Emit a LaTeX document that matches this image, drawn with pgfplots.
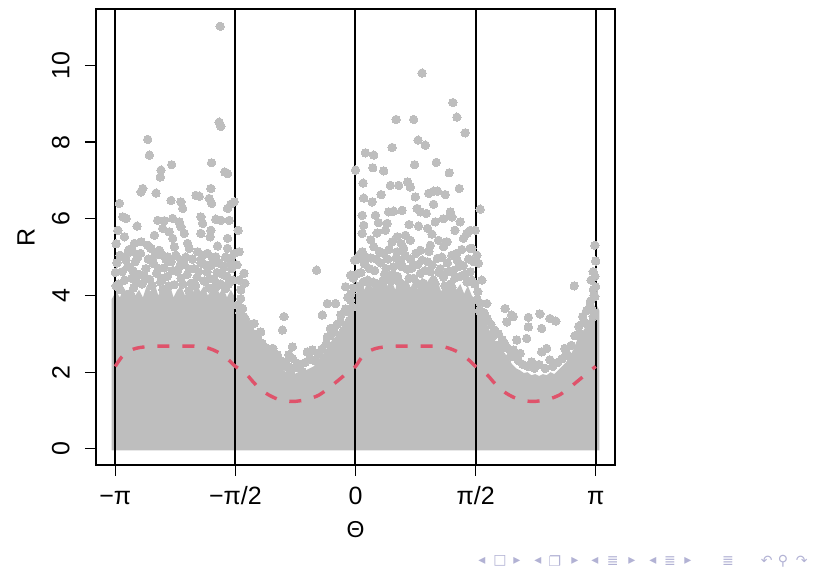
\documentclass[border=0pt]{standalone}
\usepackage{fontspec}
\setmainfont{Liberation Sans}
\newfontfamily\symfont{DejaVu Sans}
\usepackage{pgfplots}
\pgfplotsset{compat=1.18}
\usepackage{pgfplotstable}

\definecolor{ptgray}{RGB}{190,190,190}
\definecolor{curvered}{HTML}{DF536B}
\definecolor{navc}{RGB}{178,178,212}

% dense core of the cloud: outline of the solid region
\pgfplotstableread{
th R
-3.19 -0.04
-3.19 3.90
-3.13 4.10
-3.08 3.95
-3.03 4.20
-2.98 4.05
-2.93 4.30
-2.88 4.00
-2.83 4.15
-2.78 3.95
-2.73 4.25
-2.68 4.10
-2.63 4.35
-2.58 4.00
-2.53 4.20
-2.48 4.05
-2.43 4.30
-2.38 3.95
-2.33 4.15
-2.28 4.25
-2.23 4.00
-2.18 4.20
-2.13 4.05
-2.08 4.35
-2.03 4.10
-1.98 4.25
-1.93 4.00
-1.88 4.20
-1.83 4.30
-1.78 4.05
-1.73 4.20
-1.68 3.95
-1.63 4.15
-1.59 4.00
-1.55 3.60
-1.50 3.40
-1.45 3.20
-1.40 3.00
-1.35 2.85
-1.30 2.70
-1.25 2.60
-1.20 2.50
-1.15 2.40
-1.10 2.30
-1.05 2.25
-1.00 2.15
-0.95 2.05
-0.90 2.00
-0.85 1.98
-0.80 1.95
-0.75 2.00
-0.70 1.95
-0.65 2.05
-0.60 2.10
-0.55 2.15
-0.50 2.25
-0.45 2.40
-0.40 2.55
-0.35 2.70
-0.30 2.85
-0.25 2.95
-0.20 3.10
-0.15 3.25
-0.10 3.45
-0.05 3.75
-0.02 3.95
0.02 4.10
0.07 4.35
0.12 4.15
0.17 4.45
0.22 4.20
0.27 4.40
0.32 4.10
0.37 4.50
0.42 4.25
0.47 4.40
0.52 4.15
0.57 4.55
0.62 4.30
0.67 4.45
0.72 4.20
0.77 4.40
0.82 4.15
0.87 4.50
0.92 4.30
0.97 4.45
1.02 4.20
1.07 4.40
1.12 4.10
1.17 4.35
1.22 4.20
1.27 4.45
1.32 4.15
1.37 4.30
1.42 4.05
1.47 4.25
1.52 4.00
1.56 3.90
1.60 3.60
1.65 3.40
1.70 3.25
1.75 3.10
1.80 2.90
1.85 2.75
1.90 2.60
1.95 2.50
2.00 2.35
2.05 2.20
2.10 2.10
2.15 2.05
2.20 1.98
2.25 2.00
2.30 1.92
2.35 1.95
2.40 1.90
2.45 1.95
2.50 1.92
2.55 2.00
2.60 1.95
2.65 2.05
2.70 2.15
2.75 2.25
2.80 2.40
2.85 2.60
2.90 2.85
2.95 3.00
3.00 3.15
3.05 3.35
3.10 3.60
3.14 3.80
3.19 3.60
3.19 -0.04
}\coretable

% individual observations above the dense core
\pgfplotstableread{
th R
-1.770 11.02
-1.783 8.52
-1.760 8.41
-2.716 8.07
-2.695 7.66
-2.403 7.41
-2.543 7.27
-2.552 7.09
-1.882 7.46
-1.708 7.22
-1.673 7.18
-2.781 6.79
-2.804 6.70
-2.608 6.67
-3.087 6.40
-2.412 6.48
-2.282 6.44
-2.260 6.27
-2.086 6.61
-2.043 6.59
-1.891 6.79
-1.913 6.53
-1.882 6.40
-1.673 6.27
-1.630 6.38
-1.587 6.44
-3.042 6.05
-2.999 6.01
-2.856 5.81
-2.586 5.96
-2.500 5.95
-2.390 6.01
-2.304 5.92
-2.021 6.05
-1.999 5.88
-1.826 5.99
-1.760 5.96
-1.652 5.96
-3.107 5.70
-3.021 5.53
-2.630 5.57
-2.521 5.75
-2.435 5.66
-2.282 5.79
-2.239 5.62
-2.390 5.49
-1.891 5.70
-1.900 5.53
-1.673 5.49
-2.021 5.62
-2.891 5.36
-2.804 5.40
-2.716 5.31
-2.977 5.10
-2.912 5.14
-2.673 5.23
-2.565 5.18
-2.521 5.05
-2.369 5.27
-2.195 5.36
-2.174 5.23
-2.064 5.14
-1.934 5.10
-1.803 5.29
-1.673 5.23
-3.064 5.01
-2.999 4.92
-2.847 5.01
-2.455 5.01
-2.282 4.92
-2.021 4.92
-1.826 5.01
-1.630 4.97
-1.535 5.70
-3.13 5.35
-3.14 4.60
-3.13 4.25
-3.12 4.85
-3.05 4.62
-2.98 4.75
-2.93 4.45
-2.88 4.88
-2.83 4.55
-2.79 4.30
-2.74 4.70
-2.69 4.42
-2.64 4.83
-2.60 4.58
-2.55 4.35
-2.50 4.72
-2.46 4.50
-2.41 4.88
-2.37 4.28
-2.33 4.62
-2.28 4.45
-2.24 4.80
-2.20 4.55
-2.15 4.32
-2.11 4.70
-2.07 4.48
-2.02 4.85
-1.98 4.38
-1.94 4.62
-1.89 4.78
-1.85 4.42
-1.81 4.60
-1.76 4.30
-1.72 4.75
-1.68 4.50
-1.64 4.88
-1.60 4.40
-3.10 4.30
-2.90 4.20
-2.52 4.15
-2.18 4.12
-1.92 4.20
-1.70 4.18
-3.08 5.05
-3.02 4.40
-2.96 5.20
-2.91 4.65
-2.86 4.35
-2.81 5.10
-2.76 4.50
-2.71 4.95
-2.66 4.25
-2.62 5.05
-2.57 4.70
-2.53 4.45
-2.48 4.95
-2.44 4.25
-2.39 4.65
-2.35 5.05
-2.30 4.75
-2.26 4.30
-2.22 5.00
-2.17 4.68
-2.13 4.95
-2.09 4.25
-2.05 4.62
-2.00 5.05
-1.96 4.80
-1.91 4.45
-1.87 4.98
-1.83 4.20
-1.79 4.85
-1.74 4.55
-1.70 5.00
-1.66 4.30
-1.62 4.70
-1.58 5.10
-3.08 4.15
-2.95 4.05
-1.522 5.14
-1.457 4.58
-1.447 4.32
-1.500 3.92
-1.477 3.66
-0.935 3.45
-0.956 3.10
-1.239 3.05
-0.825 2.66
-0.870 2.45
-0.825 2.36
-0.630 2.53
-0.565 2.58
-0.492 2.49
-0.369 3.79
-0.261 3.79
-0.434 3.49
-0.326 3.14
-0.369 2.92
-0.196 3.31
-0.108 3.58
-0.065 3.88
-0.130 4.23
-0.013 4.92
-0.065 4.53
-0.509 4.66
-0.760 2.23
-0.695 2.01
-0.848 2.01
-0.935 2.14
-1.021 2.23
-1.108 2.36
-1.196 2.45
-1.369 2.58
-1.412 2.84
-1.434 3.36
-1.326 3.27
-1.55 4.80
-1.52 4.40
-1.50 4.15
-1.48 3.30
-1.40 3.05
-1.35 2.90
-1.30 2.75
-1.25 2.65
-1.15 2.55
-1.05 2.40
-0.40 2.30
-0.30 2.55
-0.22 2.80
-0.15 3.10
-0.08 3.35
-0.04 3.70
-0.02 4.20
-0.10 3.95
-1.54 3.75
-1.51 3.55
-1.46 3.45
-1.43 3.15
-1.38 3.20
-1.33 3.00
-1.28 2.90
-1.22 2.75
-1.18 2.65
-1.12 2.50
-1.08 2.62
-1.02 2.45
-0.98 2.30
-0.92 2.25
-0.88 2.15
-0.78 2.12
-0.72 2.20
-0.66 2.25
-0.60 2.35
-0.54 2.30
-0.48 2.45
-0.44 2.60
-0.38 2.75
-0.33 2.95
-0.28 3.05
-0.24 3.25
-0.19 3.50
-0.13 3.65
-0.06 4.05
-0.03 4.45
0.870 9.80
1.274 9.03
1.326 8.65
1.434 8.24
0.531 8.59
0.760 8.59
0.818 8.05
0.913 7.92
0.479 7.86
0.130 7.72
0.239 7.66
0.000 7.27
0.226 7.33
0.369 7.25
0.773 7.41
1.056 7.47
1.226 7.20
0.100 6.93
0.456 6.87
0.565 6.87
0.682 6.96
0.717 6.83
0.782 6.57
0.956 6.66
1.021 6.72
1.073 6.72
1.174 6.63
1.356 6.79
0.108 6.54
0.218 6.44
0.335 6.63
1.021 6.38
0.087 6.09
0.261 6.09
0.434 6.18
0.499 6.20
0.609 6.22
0.805 6.27
0.848 6.18
0.926 6.14
1.239 6.18
1.261 6.05
0.108 5.83
0.413 5.88
0.825 5.81
0.943 5.75
1.043 5.92
1.369 5.92
1.500 5.70
1.457 5.62
0.087 5.62
0.283 5.63
0.391 5.70
0.479 5.40
0.544 5.53
0.652 5.57
0.717 5.44
1.086 5.44
1.196 5.40
1.412 5.49
1.565 5.70
0.087 5.14
0.239 5.27
0.369 5.10
0.544 5.14
0.630 5.23
0.848 5.18
0.978 5.31
1.151 5.27
1.326 5.10
1.500 5.23
1.630 6.25
1.522 5.23
1.587 5.05
1.608 4.84
1.652 4.40
1.717 3.79
1.695 3.45
0.03 4.95
0.07 4.60
0.12 4.82
0.16 4.40
0.20 4.98
0.25 4.65
0.29 4.30
0.33 4.85
0.38 4.55
0.42 4.95
0.46 4.38
0.50 4.75
0.55 4.50
0.59 4.90
0.63 4.28
0.68 4.68
0.72 4.95
0.76 4.45
0.81 4.80
0.85 4.58
0.89 4.32
0.94 4.88
0.98 4.62
1.02 4.40
1.07 4.97
1.11 4.70
1.15 4.48
1.20 4.85
1.24 4.30
1.28 4.65
1.33 4.92
1.37 4.50
1.41 4.78
1.46 4.35
1.50 4.62
1.54 4.88
0.05 4.25
0.35 4.20
0.66 4.22
0.96 4.18
1.26 4.22
1.56 4.30
0.01 4.55
0.05 5.05
0.10 4.35
0.14 5.00
0.18 4.70
0.23 4.35
0.27 4.95
0.31 5.15
0.36 4.40
0.40 4.70
0.44 5.20
0.48 4.55
0.53 4.98
0.57 4.35
0.61 4.75
0.65 5.05
0.70 4.45
0.74 4.72
0.79 5.10
0.83 4.30
0.87 4.92
0.91 4.65
0.96 5.15
1.00 4.80
1.04 4.30
1.09 4.60
1.13 5.00
1.17 4.25
1.22 4.62
1.26 5.05
1.30 4.45
1.35 4.75
1.39 5.20
1.43 4.55
1.48 4.95
1.52 4.40
0.20 5.45
0.60 5.35
1.00 5.60
1.30 5.70
0.70 5.85
0.30 5.90
1.15 6.00
1.956 3.66
2.043 3.49
1.978 3.31
2.064 3.45
2.260 3.43
2.260 3.18
2.412 3.52
2.435 3.14
2.543 3.40
2.621 3.33
2.109 2.84
2.239 2.88
2.064 2.58
2.152 2.49
2.021 2.40
2.435 2.53
2.500 2.62
2.304 2.27
2.543 2.32
2.738 2.62
2.804 2.40
2.934 3.01
3.021 3.27
3.108 3.45
3.064 3.71
3.130 3.97
3.140 4.23
3.108 4.62
3.130 5.31
2.860 4.25
1.60 4.10
1.62 3.60
1.66 3.30
1.70 3.05
1.75 2.85
1.80 2.95
1.85 2.70
1.90 2.60
1.95 2.75
2.95 2.70
3.00 2.90
3.05 3.10
3.10 3.60
3.12 4.00
3.08 4.40
3.14 4.90
2.90 2.50
2.98 3.30
1.59 3.90
1.63 3.80
1.68 3.55
1.72 3.40
1.77 3.25
1.82 3.10
1.87 3.00
1.92 2.85
1.98 2.65
2.03 2.55
2.08 2.40
2.13 2.30
2.19 2.20
2.25 2.15
2.34 2.10
2.40 2.20
2.48 2.10
2.58 2.15
2.64 2.25
2.70 2.35
2.76 2.50
2.82 2.70
2.87 2.95
2.92 3.20
2.97 3.45
3.02 3.60
3.07 3.85
3.11 4.15
3.13 4.50
}\pointtable

% fitted mean of R against Theta
\pgfplotstableread{
th R
-3.1416 2.15
-3.0631 2.38
-2.9845 2.52
-2.9060 2.60
-2.8274 2.64
-2.7489 2.66
-2.6704 2.67
-2.5918 2.68
-2.5133 2.68
-2.4347 2.68
-2.3562 2.68
-2.2777 2.68
-2.1991 2.68
-2.1206 2.68
-2.0420 2.67
-1.9635 2.65
-1.8850 2.60
-1.8064 2.53
-1.7279 2.43
-1.6493 2.30
-1.5708 2.15
-1.4923 2.05
-1.4137 1.92
-1.3352 1.74
-1.2566 1.58
-1.1781 1.46
-1.0996 1.37
-1.0210 1.30
-0.9425 1.26
-0.8639 1.24
-0.7854 1.24
-0.7069 1.26
-0.6283 1.29
-0.5498 1.34
-0.4712 1.41
-0.3927 1.52
-0.3142 1.64
-0.2356 1.77
-0.1571 1.90
-0.0785 2.03
0.0000 2.15
0.0785 2.38
0.1571 2.52
0.2356 2.60
0.3142 2.64
0.3927 2.66
0.4712 2.67
0.5498 2.68
0.6283 2.68
0.7069 2.68
0.7854 2.68
0.8639 2.68
0.9425 2.68
1.0210 2.68
1.0996 2.67
1.1781 2.65
1.2566 2.60
1.3352 2.53
1.4137 2.43
1.4923 2.30
1.5708 2.15
1.6493 2.05
1.7279 1.92
1.8064 1.74
1.8850 1.58
1.9635 1.46
2.0420 1.37
2.1206 1.30
2.1991 1.26
2.2777 1.24
2.3562 1.24
2.4347 1.26
2.5133 1.29
2.5918 1.34
2.6704 1.41
2.7489 1.52
2.8274 1.64
2.9060 1.77
2.9845 1.90
3.0631 2.03
3.1416 2.15
}\curvetable

\begin{document}
\begin{tikzpicture}
\path[use as bounding box] (-48pt,-54pt) rectangle (360pt,232.5pt);
\begin{axis}[
  at={(0,0)}, anchor=south west,
  scale only axis, width=259.5pt, height=228pt,
  xmin=-3.393, xmax=3.393, ymin=-0.42, ymax=11.47,
  axis line style={line width=0.6pt},
  xtick={-3.14159,-1.5708,0,1.5708,3.14159},
  xticklabels={−π,−π/2,0,π/2,π},
  ytick={0,2,4,6,8,10},
  yticklabels={0,2,4,6,8,10},
  xtick pos=bottom, ytick pos=left,
  tick align=outside, major tick length=5.5pt,
  tick style={black, line width=0.6pt},
  every tick label/.append style={font=\fontsize{12.5}{15}\selectfont},
  xticklabel style={anchor=base, inner sep=0pt},
  xticklabel shift=14.5pt,
  yticklabel style={rotate=90, anchor=south, inner sep=0pt},
  yticklabel shift=7.5pt,
  xlabel={Θ},
  xlabel style={at={(axis description cs:0.5,-0.158)}, anchor=base, inner sep=0pt, font=\fontsize{11.5}{14}\selectfont},
  ylabel={R},
  ylabel style={at={(axis description cs:-0.1175,0.5)}, anchor=south, inner sep=0pt, font=\fontsize{12.5}{15}\selectfont},
]
  \addplot[fill=ptgray, draw=none] table[x=th, y=R] {\coretable};
  \addplot[ptgray, only marks, mark=*, mark size=2.1pt,
           mark options={fill=ptgray, draw=ptgray, line width=0pt}] table[x=th, y=R] {\pointtable};
  \addplot[black, line width=1pt] coordinates {(-3.14159,-0.42) (-3.14159,11.47)};
  \addplot[black, line width=1pt] coordinates {(-1.5708,-0.42) (-1.5708,11.47)};
  \addplot[black, line width=1pt] coordinates {(0,-0.42) (0,11.47)};
  \addplot[black, line width=1pt] coordinates {(1.5708,-0.42) (1.5708,11.47)};
  \addplot[black, line width=1pt] coordinates {(3.14159,-0.42) (3.14159,11.47)};
  \addplot[curvered, line width=1.7pt, dash pattern=on 6pt off 6.5pt, smooth] table[x=th, y=R] {\curvetable};
\end{axis}
% beamer-style navigation symbols
\begin{scope}[every node/.style={text=navc, font=\symfont\fontsize{7}{8}\selectfont, inner sep=0pt}]
  \node at (192.9pt,-48pt) {◂};
  \node at (202pt,-48pt) {□};
  \node at (210.4pt,-48pt) {▸};
  \node at (221pt,-48pt) {◂};
  \node at (229.5pt,-48pt) {❐};
  \node at (239.5pt,-48pt) {▸};
  \node at (249.5pt,-48pt) {◂};
  \node at (258.4pt,-48pt) {≣};
  \node at (267.9pt,-48pt) {▸};
  \node at (278.5pt,-48pt) {◂};
  \node at (287pt,-48pt) {≣};
  \node at (296pt,-48pt) {▸};
  \node at (316pt,-48pt) {≣};
  \node at (335.4pt,-48pt) {↶};
  \node at (343.5pt,-48pt) {⚲};
  \node at (352.9pt,-48pt) {↷};
\end{scope}
\end{tikzpicture}
\end{document}
